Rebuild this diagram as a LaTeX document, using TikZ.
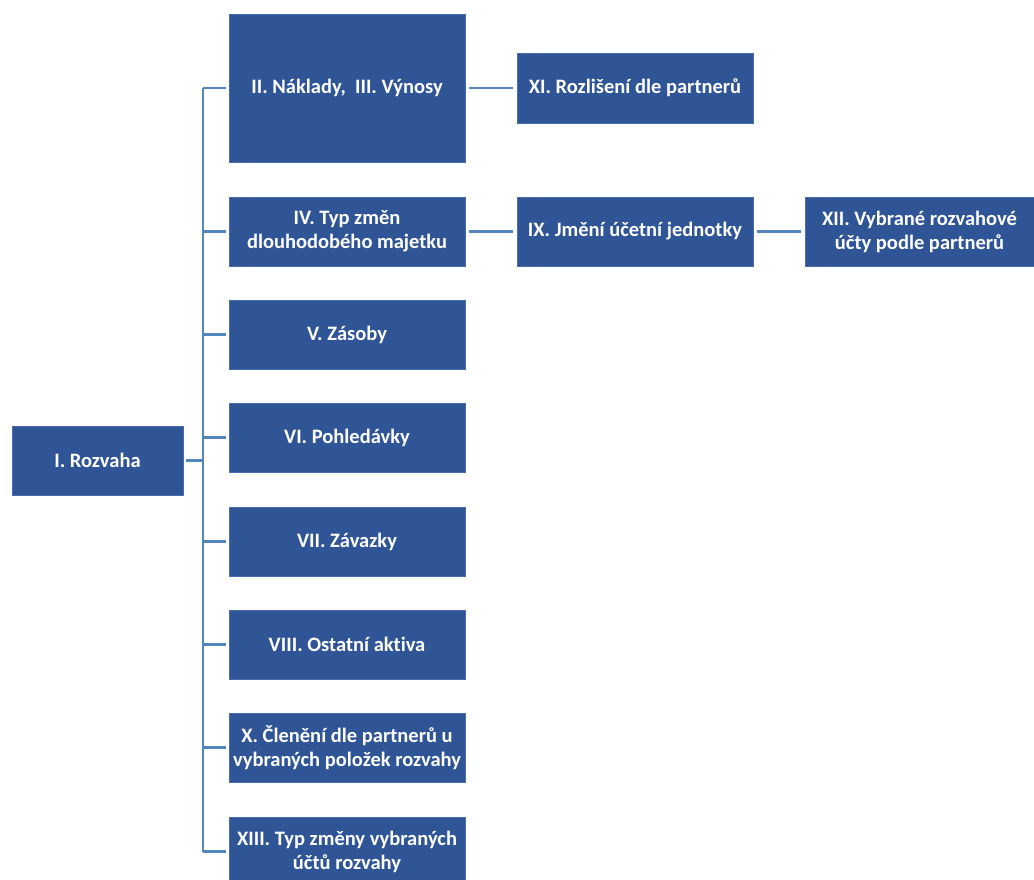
\documentclass[tikz,border=0pt]{standalone}
\usepackage{fontspec}
\setmainfont[Ligatures=NoCommon]{Carlito}
\definecolor{boxblue}{RGB}{47,85,151}
\definecolor{boxedge}{RGB}{70,110,175}
\definecolor{linkblue}{RGB}{84,134,190}
\begin{document}
\begin{tikzpicture}[x=1pt,y=-1pt,
  box/.style={rectangle, fill=boxblue, draw=boxedge, line width=0.6pt, text=white,
    font=\fontsize{20.5}{24}\selectfont\bfseries, align=center, inner sep=0pt,
    minimum height=69pt},
  colbox/.style={box, minimum width=236pt},
  conn/.style={draw=linkblue, line width=2.6pt}]
\useasboundingbox (0,0) rectangle (1034,879);
\clip (0,0) rectangle (1034,879);
\node[box, minimum width=171pt] (roz) at (97.5,460.5) {I. Rozvaha};
\node[colbox, minimum height=148pt] (n2) at (347,88) {II. Náklady,\ \ III. Výnosy};
\node[colbox] (n4) at (347,231.5) {IV. Typ změn\\dlouhodobého majetku};
\node[colbox] (n5) at (347,334.5) {V. Zásoby};
\node[colbox] (n6) at (347,437.5) {VI. Pohledávky};
\node[colbox] (n7) at (347,541.5) {VII. Závazky};
\node[colbox] (n8) at (347,644.5) {VIII. Ostatní aktiva};
\node[colbox] (n10) at (347,747.5) {X. Členění dle partnerů u\\vybraných položek rozvahy};
\node[colbox] (n13) at (347,851.5) {XIII. Typ změny vybraných\\účtů rozvahy};
\node[colbox, minimum height=70pt] (n11) at (635,88) {XI. Rozlišení dle partnerů};
\node[colbox] (n9) at (635,231.5) {IX. Jmění účetní jednotky};
\node[box, minimum width=229pt] (n12) at (919.5,231.5) {XII. Vybrané rozvahové\\účty podle partnerů};
\coordinate (sT) at (203,88);
\coordinate (sB) at (203,851.5);
\draw[conn] (sT) -- (sB);
\draw[conn, shorten <=3pt] (roz.east) -- (roz.east -| sT);
\foreach \b in {n2,n4,n5,n6,n7,n8,n10,n13}
  \draw[conn, shorten >=3pt] (sT |- \b.west) -- (\b.west);
\draw[conn, shorten <=4pt, shorten >=4pt] (n2.east) -- (n11.west);
\draw[conn, shorten <=4pt, shorten >=4pt] (n4.east) -- (n9.west);
\draw[conn, shorten <=4pt, shorten >=4pt] (n9.east) -- (n12.west);
\end{tikzpicture}
\end{document}
